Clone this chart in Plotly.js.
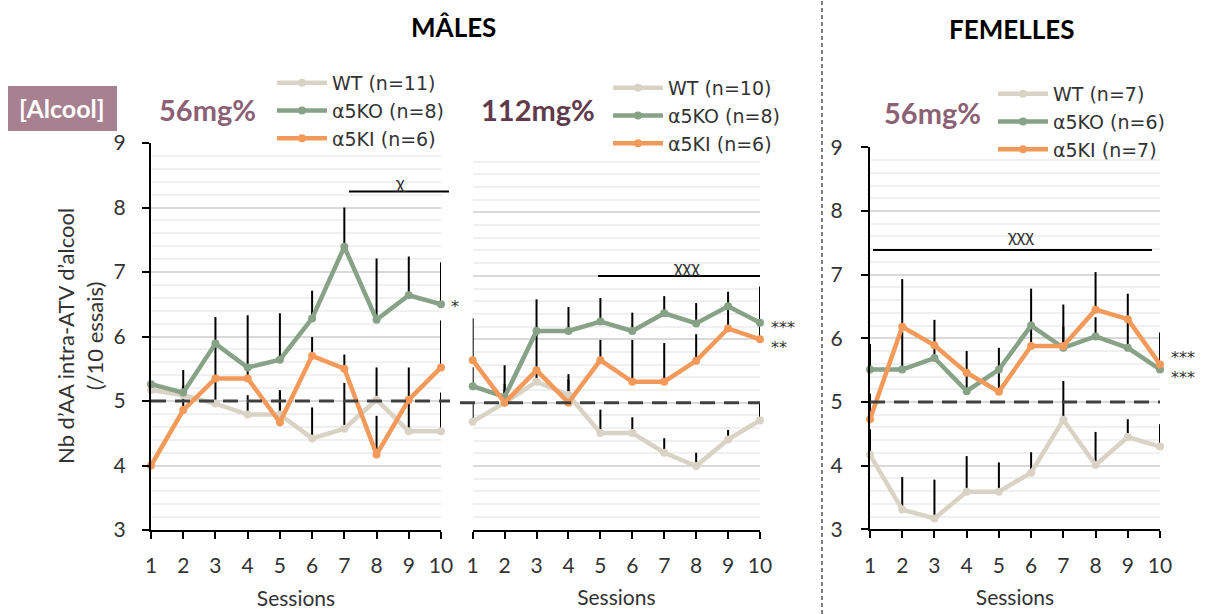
<!DOCTYPE html>
<html><head><meta charset="utf-8">
<script src="https://cdn.plot.ly/plotly-3.0.1.min.js"></script>
<style>html,body{margin:0;padding:0;background:#fff}#chart{width:1210px;height:614px}</style>
</head><body><div id="chart"></div>
<script>
// ---------- DATA ----------
const sessions = [1, 2, 3, 4, 5, 6, 7, 8, 9, 10];
const sessionLabels = ['1', '2', '3', '4', '5', '6', '7', '8', '9', '10'];
const yTicks = [3, 4, 5, 6, 7, 8, 9];

// Mâles 56mg%
const m56_WT      = [5.17, 5.09, 4.96, 4.79, 4.79, 4.42, 4.57, 5.02, 4.53, 4.53];
const m56_WT_err  = [0, 0.15, 0.35, 0.30, 0.35, 0.48, 0.71, 0.50, 0.50, 0.60];
const m56_KO      = [5.26, 5.13, 5.89, 5.52, 5.64, 6.28, 7.39, 6.26, 6.64, 6.50];
const m56_KO_err  = [0, 0.35, 0.41, 0.81, 0.72, 0.43, 0.61, 0.95, 0.60, 0.65];
const m56_KI      = [4.00, 4.86, 5.35, 5.35, 4.67, 5.70, 5.50, 4.17, 5.02, 5.52];
const m56_KI_err  = [0, 0.20, 0.50, 0.15, 0.50, 0.29, 0.22, 0.60, 0.50, 0.73];

// Mâles 112mg%
const m112_WT     = [4.70, 5.00, 5.33, 5.12, 4.52, 4.52, 4.21, 4.00, 4.42, 4.72];
const m112_WT_err = [0.30, 0.20, 0.20, 0.25, 0.37, 0.25, 0.23, 0.21, 0.15, 0.28];
const m112_KO     = [5.26, 5.09, 6.13, 6.13, 6.28, 6.13, 6.41, 6.25, 6.52, 6.26];
const m112_KO_err = [0.30, 0.50, 0.50, 0.38, 0.37, 0.29, 0.27, 0.32, 0.23, 0.57];
const m112_KI     = [5.67, 5.00, 5.51, 5.00, 5.67, 5.33, 5.33, 5.66, 6.17, 6.00];
const m112_KI_err = [0.66, 0.30, 0.60, 0.45, 0.32, 0.66, 0.61, 0.42, 0.35, 0.30];

// Femelles 56mg%
const f56_WT      = [4.17, 3.31, 3.17, 3.59, 3.59, 3.89, 4.72, 4.01, 4.45, 4.30];
const f56_WT_err  = [0.40, 0.51, 0.61, 0.56, 0.46, 0.32, 0.61, 0.52, 0.28, 0.35];
const f56_KO      = [5.51, 5.51, 5.69, 5.17, 5.51, 6.20, 5.85, 6.03, 5.85, 5.51];
const f56_KO_err  = [0.40, 0.60, 0.20, 0.30, 0.34, 0.58, 0.68, 0.30, 0.50, 0.30];
const f56_KI      = [4.73, 6.18, 5.89, 5.46, 5.16, 5.88, 5.88, 6.45, 6.30, 5.59];
const f56_KI_err  = [0.40, 0.75, 0.40, 0.34, 0.30, 0.30, 0.30, 0.59, 0.40, 0.50];

const names_m56  = ['WT (n=11)', 'α5KO (n=8)', 'α5KI (n=6)'];
const names_m112 = ['WT (n=10)', 'α5KO (n=8)', 'α5KI (n=6)'];
const names_f56  = ['WT (n=7)', 'α5KO (n=6)', 'α5KI (n=7)'];

// ---------- STYLE ----------
const W = 1210, H = 614;
const fx = p => p / W;
const fy = p => 1 - p / H;
const FONT = 'Lato, "Open Sans", "DejaVu Sans", sans-serif';
const LEG_FONT = '"DejaVu Sans", Lato, sans-serif';
const STAR_FONT = '"DejaVu Sans", sans-serif';
const TXT = '#333333';
const colors = ['#d9d3c6', '#87a286', '#f39a5b'];

const panels = [
  {xa: 'x',  ya: 'y',  leg: 'legend',  names: names_m56,
   vals: [m56_WT, m56_KO, m56_KI], errs: [m56_WT_err, m56_KO_err, m56_KI_err]},
  {xa: 'x2', ya: 'y2', leg: 'legend2', names: names_m112,
   vals: [m112_WT, m112_KO, m112_KI], errs: [m112_WT_err, m112_KO_err, m112_KI_err]},
  {xa: 'x3', ya: 'y3', leg: 'legend3', names: names_f56,
   vals: [f56_WT, f56_KO, f56_KI], errs: [f56_WT_err, f56_KO_err, f56_KI_err]}
];

const traces = [];
// error bars first (under lines)
panels.forEach(p => {
  for (let i = 0; i < 3; i++) {
    traces.push({
      type: 'scatter', mode: 'markers', x: sessions, y: p.vals[i],
      xaxis: p.xa, yaxis: p.ya, showlegend: false, hoverinfo: 'skip',
      marker: {size: 1, color: 'rgba(0,0,0,0)'}, cliponaxis: false,
      error_y: {type: 'data', symmetric: false, array: p.errs[i],
                arrayminus: p.errs[i].map(() => 0), color: '#000', thickness: 2, width: 0}
    });
  }
});
panels.forEach(p => {
  for (let i = 0; i < 3; i++) {
    traces.push({
      type: 'scatter', mode: 'lines+markers', x: sessions, y: p.vals[i],
      xaxis: p.xa, yaxis: p.ya, name: p.names[i], legend: p.leg,
      line: {color: colors[i], width: 4.5}, marker: {color: colors[i], size: 8},
      cliponaxis: false
    });
  }
});

function xax(d0, d1, anchor) {
  return {
    domain: [fx(d0), fx(d1)], range: [1, 10], anchor: anchor,
    tickmode: 'array', tickvals: sessions, ticktext: sessionLabels,
    ticks: 'outside', ticklen: 7, tickwidth: 2, tickcolor: '#000',
    showline: true, linecolor: '#000', linewidth: 2, mirror: false,
    showgrid: false, zeroline: false, ticklabelstandoff: 9,
    tickfont: {family: FONT, size: 21, color: TXT},
    title: {text: 'Sessions', font: {family: FONT, size: 21, color: TXT}, standoff: 15},
    fixedrange: true
  };
}
function yax(top, bottom, anchor, visible, standoff) {
  return {
    domain: [fy(bottom), fy(top)], range: [3, 9], anchor: anchor,
    tickmode: 'array', tickvals: yTicks,
    ticks: visible ? 'outside' : '', ticklen: 7, tickwidth: 2, tickcolor: '#000',
    showline: visible, linecolor: '#000', linewidth: 2,
    showticklabels: visible, ticklabelstandoff: standoff,
    tickfont: {family: FONT, size: 21, color: TXT},
    showgrid: true, gridcolor: '#d9d9d9', gridwidth: 2, zeroline: false,
    minor: {dtick: 0.2, showgrid: true, gridcolor: '#f0f0f0', gridwidth: 2, ticks: ''},
    fixedrange: true
  };
}

function legendAt(xpx, ypx) {
  return {x: fx(xpx), y: fy(ypx), xanchor: 'left', yanchor: 'top',
          bgcolor: 'rgba(0,0,0,0)', borderwidth: 0, itemwidth: 50,
          font: {family: LEG_FONT, size: 19, color: TXT}, tracegroupgap: 0};
}

function ann(text, xpx, ypx, size, opts) {
  return Object.assign({text: text, x: fx(xpx), y: fy(ypx), xref: 'paper', yref: 'paper',
    showarrow: false, xanchor: 'center', yanchor: 'middle',
    font: {family: FONT, size: size, color: TXT}}, opts || {});
}
const star = (t, xpx, ypx) => ann(t, xpx, ypx, 16,
  {xanchor: 'left', font: {family: STAR_FONT, size: 16, color: TXT}});

const annotations = [
  ann('<b>MÂLES</b>', 453, 27, 26, {font: {family: FONT, size: 26, color: '#000'}}),
  ann('<b>FEMELLES</b>', 1012, 29, 26, {font: {family: FONT, size: 26, color: '#000'}}),
  ann('<b>[Alcool]</b>', 62, 108, 25, {font: {family: FONT, size: 25, color: '#fff'}}),
  ann('<b>56mg%</b>', 207, 110, 29, {font: {family: FONT, size: 29, color: '#8c6175'}}),
  ann('<b>112mg%</b>', 538, 110, 29, {font: {family: FONT, size: 29, color: '#5f3b4c'}}),
  ann('<b>56mg%</b>', 932, 113, 29, {font: {family: FONT, size: 29, color: '#8c6175'}}),
  ann('Nb d’AA intra-ATV d’alcool<br>(/10 essais)', 80, 336, 22, {textangle: -90}),
  ann('χ', 400, 182, 18),
  ann('χχχ', 686, 266, 18),
  ann('χχχ', 1020, 235, 18),
  star('*', 449, 306),
  star('***', 769, 327),
  star('**', 769, 347),
  star('***', 1169, 357),
  star('***', 1169, 377)
];

const shapes = [
  {type: 'rect', xref: 'paper', yref: 'paper', x0: fx(8), x1: fx(117), y0: fy(131), y1: fy(86),
   fillcolor: '#a7818f', line: {width: 0}},
  // dividing line
  {type: 'line', xref: 'paper', yref: 'paper', x0: fx(822), x1: fx(822), y0: 0, y1: 1,
   line: {color: '#000', width: 1, dash: '4px,3px'}},
  // reference lines at 5
  {type: 'line', xref: 'paper', yref: 'y', x0: fx(151), x1: fx(450), y0: 5, y1: 5, layer: 'above',
   line: {color: '#404040', width: 3, dash: '15px,9px'}},
  {type: 'line', xref: 'paper', yref: 'y2', x0: fx(460), x1: fx(760), y0: 5, y1: 5, layer: 'above',
   line: {color: '#404040', width: 3, dash: '15px,9px'}},
  {type: 'line', xref: 'paper', yref: 'y3', x0: fx(870), x1: fx(1160), y0: 5, y1: 5, layer: 'above',
   line: {color: '#404040', width: 3, dash: '15px,9px'}},
  // significance brackets
  {type: 'line', xref: 'paper', yref: 'paper', x0: fx(349), x1: fx(449), y0: fy(191.5), y1: fy(191.5),
   line: {color: '#000', width: 2}},
  {type: 'line', xref: 'paper', yref: 'paper', x0: fx(598), x1: fx(760), y0: fy(276), y1: fy(276),
   line: {color: '#000', width: 2}},
  {type: 'line', xref: 'paper', yref: 'paper', x0: fx(873), x1: fx(1152), y0: fy(250), y1: fy(250),
   line: {color: '#000', width: 2}}
];

const layout = {
  width: W, height: H, margin: {l: 0, r: 0, t: 0, b: 0},
  paper_bgcolor: '#fff', plot_bgcolor: 'rgba(0,0,0,0)',
  font: {family: FONT, color: TXT},
  xaxis: xax(151, 441, 'y'), yaxis: yax(143, 530, 'x', true, 12),
  xaxis2: xax(472.7, 760, 'y2'), yaxis2: yax(149, 529.5, 'x2', false, 0),
  xaxis3: xax(870, 1160, 'y3'), yaxis3: yax(147.3, 529.3, 'x3', true, 14),
  legend: legendAt(272, 64),
  legend2: legendAt(608, 69),
  legend3: legendAt(993, 75),
  annotations: annotations, shapes: shapes, hovermode: false
};

Plotly.newPlot('chart', traces, layout, {displayModeBar: false, staticPlot: true});
</script></body></html>
